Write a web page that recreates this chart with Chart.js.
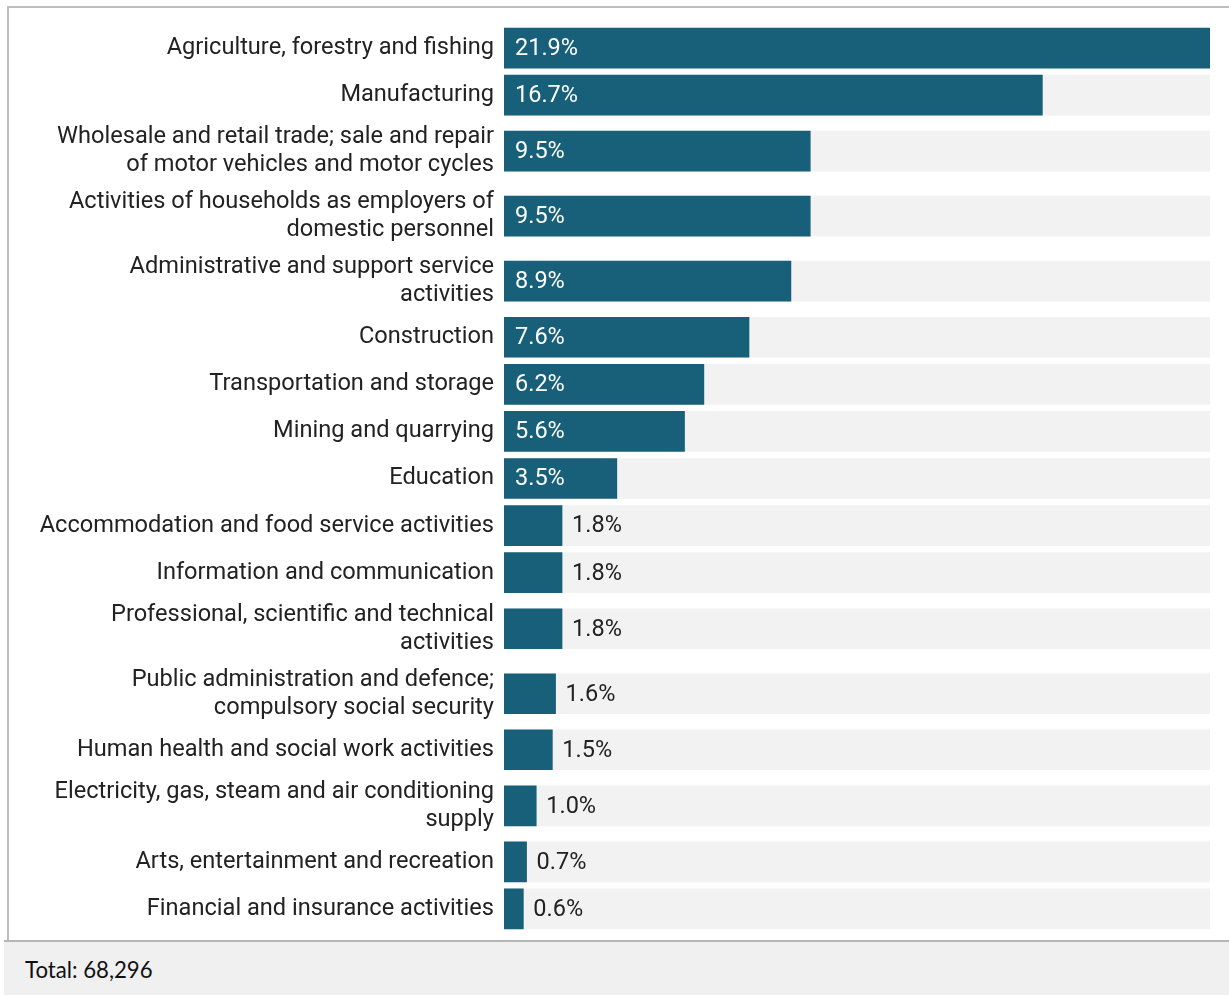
<!DOCTYPE html>
<html><head><meta charset="utf-8">
<script src="https://cdn.jsdelivr.net/npm/chart.js@4.4.1/dist/chart.umd.min.js"></script>
<style>
html,body{margin:0;padding:0;background:#fff;width:1229px;height:995px;overflow:hidden;}
#wrap{position:absolute;left:0;top:0;width:1229px;height:940px;}
#topline{position:absolute;left:7px;top:6px;width:1222px;height:2px;background:#bdbdbd;}
#leftline{position:absolute;left:7px;top:6px;width:2px;height:934px;background:#bdbdbd;}
#footer{position:absolute;left:4px;top:940px;width:1225px;height:55px;background:#f0f0f0;border-top:2px solid #b5b5b5;box-sizing:border-box;font-family:Lato,sans-serif;font-size:22.2px;color:#111;padding-left:21px;line-height:55px;}
</style></head>
<body>
<div id="wrap"><canvas id="c"></canvas></div>
<div id="topline"></div><div id="leftline"></div>
<div id="footer"></div>
<script>
const categories = [
  ['Agriculture, forestry and fishing'],
  ['Manufacturing'],
  ['Wholesale and retail trade; sale and repair','of motor vehicles and motor cycles'],
  ['Activities of households as employers of','domestic personnel'],
  ['Administrative and support service','activities'],
  ['Construction'],
  ['Transportation and storage'],
  ['Mining and quarrying'],
  ['Education'],
  ['Accommodation and food service activities'],
  ['Information and communication'],
  ['Professional, scientific and technical','activities'],
  ['Public administration and defence;','compulsory social security'],
  ['Human health and social work activities'],
  ['Electricity, gas, steam and air conditioning','supply'],
  ['Arts, entertainment and recreation'],
  ['Financial and insurance activities']
];
const shares = [21.9,16.7,9.5,9.5,8.9,7.6,6.2,5.6,3.5,1.8,1.8,1.8,1.6,1.5,1.0,0.7,0.6];
const totalLabel = 'Total: 68,296';

document.getElementById('footer').textContent = totalLabel;

// row positions derived from label line counts
const rowSize = categories.map(l => 1 + 0.38 * (l.length - 1));
let acc = 0;
const centers = rowSize.map(s => { const c = acc + s / 2; acc += s; return c; });
const span = acc;
const maxShare = Math.max(...shares);

const valueLabels = {
  id: 'valueLabels',
  afterDatasetsDraw(chart) {
    const ctx = chart.ctx;
    const meta = chart.getDatasetMeta(0);
    ctx.save();
    ctx.font = '23.5px Roboto';
    ctx.textBaseline = 'middle';
    ctx.textAlign = 'left';
    meta.data.forEach((bar, i) => {
      const txt = shares[i].toFixed(1) + '%';
      const w = ctx.measureText(txt).width;
      const left = Math.min(bar.base, bar.x), right = Math.max(bar.base, bar.x);
      if (right - left >= w + 22) {
        ctx.fillStyle = '#ffffff';
        ctx.fillText(txt, left + 11, bar.y + 1);
      } else {
        ctx.fillStyle = '#222222';
        ctx.fillText(txt, right + 10, bar.y + 1);
      }
    });
    ctx.restore();
  }
};

function draw() {
  new Chart(document.getElementById('c'), {
    type: 'bar',
    data: {
      datasets: [
        { label: 'Share', data: shares.map((v, i) => ({ x: v, y: centers[i] })),
          backgroundColor: '#185f79', barThickness: 40, order: 0 },
        { label: 'Background', data: shares.map((v, i) => ({ x: maxShare, y: centers[i] })),
          backgroundColor: '#f2f2f2', barThickness: 40, order: 1 }
      ]
    },
    options: {
      indexAxis: 'y',
      responsive: true,
      maintainAspectRatio: false,
      animation: false,
      datasets: { bar: { grouped: false } },
      layout: { padding: { top: 24.5, bottom: 7.5, right: 19, left: 0 } },
      plugins: { legend: { display: false }, tooltip: { enabled: false } },
      scales: {
        x: { type: 'linear', min: 0, max: maxShare, display: false },
        y: {
          type: 'linear', reverse: true, min: 0, max: span, offset: false,
          grid: { display: false, drawTicks: false, offset: false },
          border: { display: false },
          afterBuildTicks: s => { s.ticks = centers.map(v => ({ value: v })); },
          afterFit: s => { s.width = 504; s.paddingTop = 0; s.paddingBottom = 0; },
          ticks: {
            autoSkip: false, padding: 10, color: '#222222',
            font: { family: 'Roboto', size: 23.6, lineHeight: 1.18 },
            callback: (v, i) => categories[i]
          }
        }
      }
    },
    plugins: [valueLabels]
  });
}
if (document.fonts && document.fonts.load) {
  Promise.all([document.fonts.load('23px Roboto'), document.fonts.load('22px Lato')]).then(draw, draw);
} else { draw(); }
</script>
</body></html>
